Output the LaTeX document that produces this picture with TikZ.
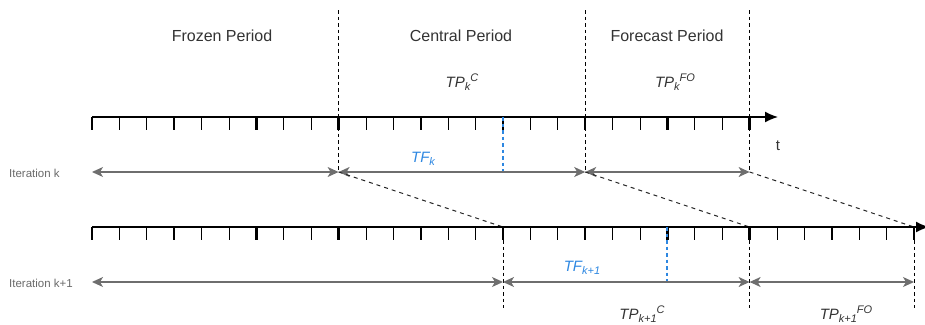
\documentclass[tikz,border=0pt]{standalone}
\usepackage{fontspec}
\setmainfont{Liberation Sans}
\usetikzlibrary{arrows.meta}
\definecolor{tfblue}{RGB}{45,135,225}
\definecolor{arrgray}{RGB}{110,110,110}
\definecolor{txtgray}{RGB}{51,51,51}
\definecolor{itgray}{RGB}{105,105,105}
\newcommand{\mysub}[1]{\raisebox{-0.35ex}{\fontsize{11}{11}\selectfont #1}}
\newcommand{\mysup}[1]{\raisebox{0.75ex}{\fontsize{11}{11}\selectfont #1}}
\tikzset{
  axisline/.style={line width=1.5pt, black},
  thintick/.style={line width=1pt, black},
  thicktick/.style={line width=2.4pt, black},
  vdash/.style={line width=1pt, black, dash pattern=on 3.5pt off 3pt},
  bdash/.style={line width=1.5pt, tfblue, dash pattern=on 3.5pt off 3pt},
  ddash/.style={line width=1pt, black!85, dash pattern=on 4pt off 4pt},
  darr/.style={line width=1.3pt, arrgray, {Stealth[length=11pt,width=10pt,inset=3pt]}-{Stealth[length=11pt,width=10pt,inset=3pt]}},
  periodlbl/.style={font=\fontsize{16}{19}\selectfont, text=txtgray, inner sep=0pt},
  tplbl/.style={font=\fontsize{15}{18}\selectfont\itshape, text=txtgray, inner sep=0pt},
  tflbl/.style={font=\fontsize{15}{18}\selectfont\itshape, text=tfblue, inner sep=0pt},
  itlbl/.style={font=\fontsize{11.5}{14}\selectfont, text=itgray, inner sep=0pt, anchor=west},
}
\begin{document}
\begin{tikzpicture}[x=1pt,y=-1pt]
\useasboundingbox (0,0) rectangle (925,324);
% tick coordinates
\foreach \i in {0,...,24} { \coordinate (a\i) at ({92+27.4*\i},117); }
\foreach \i in {0,...,30} { \coordinate (b\i) at ({92+27.4*\i},227); }
\foreach \i in {0,9,15,18,24} {
  \coordinate (top\i) at ({92+27.4*\i},10);
  \coordinate (k\i) at ({92+27.4*\i},172);
}
\foreach \i in {0,15,24,30} {
  \coordinate (j\i) at ({92+27.4*\i},282);
  \coordinate (bot\i) at ({92+27.4*\i},308);
}
\coordinate (bl21) at (667,227);
\coordinate (j21) at (667,282);
\coordinate (aend) at (778,117);
\coordinate (bend) at (929,227);

% dashed verticals (iteration k)
\draw[vdash] (top9) -- (k9);
\draw[vdash] (top18) -- (k18);
\draw[vdash] (top24) -- (k24);

% top axis
\draw[axisline,-{Latex[length=13pt,width=11pt]}] (a0) -- (aend);
\foreach \i in {0,...,24} { \draw[thintick] (a\i) -- ++(0,13); }
\foreach \i in {0,3,...,24} { \draw[thicktick] (a\i) -- ++(0,13); }
\draw[bdash] (a15) -- (k15);

% arrows iteration k
\draw[darr] (k0) -- (k9);
\draw[darr] (k9) -- (k18);
\draw[darr] (k18) -- (k24);

% diagonal shifts
\draw[ddash] (k9) -- (b15);
\draw[ddash] (k18) -- (b24);
\draw[ddash] (k24) -- (b30);

% dashed verticals (iteration k+1)
\draw[vdash] (b15) -- (bot15);
\draw[vdash] (b24) -- (bot24);
\draw[vdash] (b30) -- (bot30);

% second axis
\draw[axisline,-{Latex[length=13pt,width=11pt]}] (b0) -- (bend);
\foreach \i in {0,...,30} { \draw[thintick] (b\i) -- ++(0,13); }
\foreach \i in {0,3,...,30} { \draw[thicktick] (b\i) -- ++(0,13); }
\draw[bdash] (bl21) -- (j21);

% arrows iteration k+1
\draw[darr] (j0) -- (j15);
\draw[darr] (j15) -- (j24);
\draw[darr] (j24) -- (j30);

% labels
\node[periodlbl] (frozen) at (222,36) {Frozen Period};
\node[periodlbl] (central) at (461,36) {Central Period};
\node[periodlbl] (forecast) at (667,36) {Forecast Period};
\node[tplbl] (tpkc) at (462,82) {TP\mysub{k}\mysup{C}};
\node[tplbl] (tpkfo) at (675,82) {TP\mysub{k}\mysup{FO}};
\node[periodlbl, font=\fontsize{15}{18}\selectfont] (tlbl) at (778,146) {t};
\node[tflbl] (tfk) at (423,159) {TF\mysub{k}};
\node[tflbl] (tfk1) at (582,268) {TF\mysub{k+1}};
\node[tplbl] (tpk1c) at (642,314) {TP\mysub{k+1}\mysup{C}};
\node[tplbl] (tpk1fo) at (846,314) {TP\mysub{k+1}\mysup{FO}};
\node[itlbl] (itk) at (9,173) {Iteration k};
\node[itlbl] (itk1) at (9,283) {Iteration k+1};
\end{tikzpicture}
\end{document}
